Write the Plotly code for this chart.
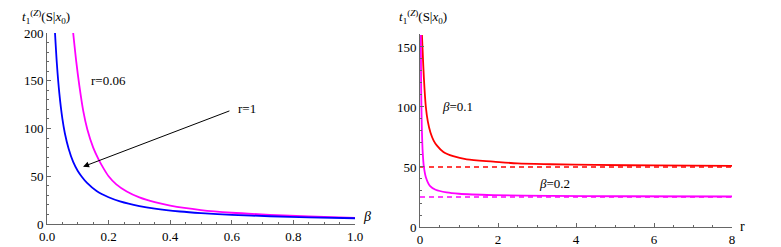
import plotly.graph_objects as go

# ---- Left panel data: t vs beta ----
beta_r1 = [0.026, 0.032, 0.04, 0.05, 0.058, 0.07, 0.085, 0.1, 0.113, 0.13, 0.161, 0.2, 0.237, 0.3, 0.35, 0.432, 0.5, 0.6, 0.724, 0.85, 1.0]
t_r1 = [200, 168, 137, 110, 95, 79, 65, 55.5, 49.5, 43, 34.5, 28, 23.7, 18.8, 16.1, 13.1, 11.4, 9.6, 8.1, 7.0, 6.0]

beta_r006 = [0.085, 0.095, 0.105, 0.118, 0.131, 0.15, 0.167, 0.185, 0.2, 0.225, 0.259, 0.3, 0.35, 0.4, 0.5, 0.6, 0.724, 0.85, 1.0]
t_r006 = [200, 170, 145, 118, 99, 80, 68, 57.5, 50, 41.5, 34, 27.8, 22.8, 19.2, 14.6, 11.8, 9.6, 7.9, 6.4]

# ---- Right panel data: t vs r ----
r_b01 = [0.05, 0.07, 0.1, 0.15, 0.2, 0.27, 0.35, 0.43, 0.6, 0.85, 1.2, 1.88, 2.5, 3.33, 4.5, 6, 8]
t_b01 = [160, 145, 124, 100, 88, 78.5, 72, 68, 62.5, 59, 56.3, 54.5, 53, 52.3, 51.7, 51.3, 51]

r_b02 = [0.02, 0.03, 0.045, 0.07, 0.1, 0.15, 0.26, 0.4, 0.68, 1.0, 1.88, 3.33, 5, 8]
t_b02 = [160, 115, 85, 62, 50, 41.5, 34, 31, 28.8, 27.7, 26.6, 25.9, 25.6, 25.4]

r_asym = [0, 8]
t_asym_b01 = [50, 50]
t_asym_b02 = [25, 25]

SERIF = "Liberation Serif, Times New Roman, serif"
AXC = "#666666"

fig = go.Figure()
fig.add_trace(go.Scatter(x=beta_r006, y=t_r006, mode="lines", line=dict(color="#FF00FF", width=1.8, shape="spline", smoothing=0.8),
                         xaxis="x", yaxis="y", showlegend=False))
fig.add_trace(go.Scatter(x=beta_r1, y=t_r1, mode="lines", line=dict(color="#0000FF", width=1.8, shape="spline", smoothing=0.8),
                         xaxis="x", yaxis="y", showlegend=False))
fig.add_trace(go.Scatter(x=r_asym, y=t_asym_b01, mode="lines", line=dict(color="#FF0000", width=1.3, dash="5px,4px"),
                         xaxis="x2", yaxis="y2", showlegend=False))
fig.add_trace(go.Scatter(x=r_asym, y=t_asym_b02, mode="lines", line=dict(color="#FF00FF", width=1.3, dash="5px,4px"),
                         xaxis="x2", yaxis="y2", showlegend=False))
fig.add_trace(go.Scatter(x=r_b01, y=t_b01, mode="lines", line=dict(color="#FF0000", width=1.8, shape="spline", smoothing=0.8),
                         xaxis="x2", yaxis="y2", showlegend=False))
fig.add_trace(go.Scatter(x=r_b02, y=t_b02, mode="lines", line=dict(color="#FF00FF", width=1.8, shape="spline", smoothing=0.8),
                         xaxis="x2", yaxis="y2", showlegend=False))

W, H = 781, 247
OFF = 8  # page body margin


def px_x(p):
    return (p - OFF) / W


def px_y(p):
    return 1 - (p - OFF) / H


def ax(range_, dtick, minor_dtick, domain, anchor, fmt=None):
    d = dict(range=range_, domain=domain, anchor=anchor, showgrid=False, zeroline=False, automargin=False,
             showline=True, linecolor=AXC, linewidth=1, ticks="inside", ticklen=4, tickcolor=AXC,
             dtick=dtick, tick0=0, tickfont=dict(family=SERIF, size=13, color="black"),
             minor=dict(ticks="inside", ticklen=2, dtick=minor_dtick, tickcolor=AXC, showgrid=False))
    if fmt:
        d["tickformat"] = fmt
    return d


fig.update_layout(
    width=W, height=H, margin=dict(l=0, r=0, t=0, b=0),
    paper_bgcolor="white", plot_bgcolor="white",
    xaxis=ax([0, 1.0], 0.2, 0.05, [px_x(47), px_x(355)], "y", ".1f"),
    yaxis=ax([0, 200], 50, 10, [px_y(224), px_y(33)], "x"),
    xaxis2=ax([0, 8], 2, 0.5, [px_x(420), px_x(732)], "y2"),
    yaxis2=ax([0, 160.8], 50, 10, [px_y(227), px_y(34)], "x2"),
)

title_txt = "<i>t</i><sub>1</sub><sup>(<i>Z</i>)</sup>(S|<i>x</i><sub>0</sub>)"
annots = [
    dict(x=px_x(20), y=px_y(17), xref="paper", yref="paper", text=title_txt, showarrow=False,
         xanchor="left", yanchor="middle", font=dict(family=SERIF, size=13, color="black")),
    dict(x=px_x(397), y=px_y(17), xref="paper", yref="paper", text=title_txt, showarrow=False,
         xanchor="left", yanchor="middle", font=dict(family=SERIF, size=13, color="black")),
    dict(x=px_x(361), y=px_y(216), xref="paper", yref="paper", text="<i>β</i>", showarrow=False,
         xanchor="left", yanchor="middle", font=dict(family=SERIF, size=14, color="black")),
    dict(x=px_x(738), y=px_y(226), xref="paper", yref="paper", text="r", showarrow=False,
         xanchor="left", yanchor="middle", font=dict(family=SERIF, size=14, color="black")),
    dict(x=0.135, y=150, xref="x", yref="y", text="r=0.06", showarrow=False, xanchor="left", yanchor="middle",
         font=dict(family=SERIF, size=13, color="black")),
    dict(x=0.615, y=121, xref="x", yref="y", text="r=1", showarrow=False, xanchor="left", yanchor="middle",
         font=dict(family=SERIF, size=13, color="black")),
    dict(x=0.117, y=60, xref="x", yref="y", ax=0.597, ay=119, axref="x", ayref="y", text="", showarrow=True,
         arrowhead=2, arrowsize=1.2, arrowwidth=1, arrowcolor="black", standoff=0),
    dict(x=0.95, y=100, xref="x2", yref="y2", text="<i>β</i>=0.1", showarrow=False,
         font=dict(family=SERIF, size=13, color="black")),
    dict(x=3.46, y=36, xref="x2", yref="y2", text="<i>β</i>=0.2", showarrow=False,
         font=dict(family=SERIF, size=13, color="black")),
]
fig.update_layout(annotations=annots)

fig.write_html("out.html")
